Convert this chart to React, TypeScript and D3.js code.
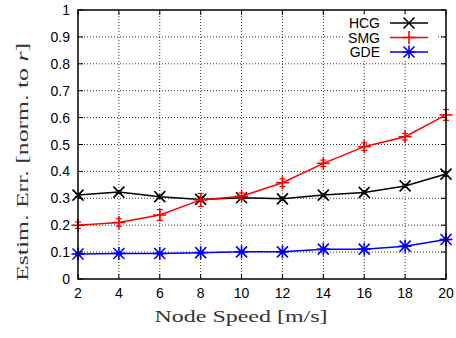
import { useEffect, useRef } from "react";
import * as d3 from "d3";

// node speeds (m/s)
const speeds = [2, 4, 6, 8, 10, 12, 14, 16, 18, 20];

// estimation error, normalised to r
const hcg = [0.312, 0.323, 0.306, 0.296, 0.302, 0.298, 0.312, 0.322, 0.346, 0.39];
const hcgErr = [0.006, 0.006, 0.006, 0.008, 0.006, 0.006, 0.006, 0.006, 0.006, 0.008];
const smg = [0.2, 0.21, 0.238, 0.294, 0.308, 0.358, 0.43, 0.492, 0.529, 0.61];
const smgErr = [0.012, 0.014, 0.02, 0.024, 0.012, 0.014, 0.012, 0.014, 0.012, 0.02];
const gde = [0.093, 0.095, 0.095, 0.098, 0.101, 0.101, 0.111, 0.111, 0.122, 0.147];
const gdeErr = [0.004, 0.004, 0.004, 0.004, 0.004, 0.004, 0.004, 0.004, 0.004, 0.005];

const xTicks = [2, 4, 6, 8, 10, 12, 14, 16, 18, 20];
const yTicks = [0, 0.1, 0.2, 0.3, 0.4, 0.5, 0.6, 0.7, 0.8, 0.9, 1];

const seriesList = [
  { name: "HCG", values: hcg, err: hcgErr, color: "#000000", marker: "x" },
  { name: "SMG", values: smg, err: smgErr, color: "#ff0000", marker: "plus" },
  { name: "GDE", values: gde, err: gdeErr, color: "#0000ff", marker: "star" },
];

function App() {
  const svgRef = useRef<SVGSVGElement>(null);

  useEffect(() => {
    document.body.style.margin = "0";
    const width = 456;
    const height = 338;
    const left = 78, right = 446, top = 10, bottom = 279;

    const svg = d3.select(svgRef.current);
    svg.selectAll("*").remove();
    svg.attr("width", width).attr("height", height);

    const x = d3.scaleLinear().domain([2, 20]).range([left, right]);
    const y = d3.scaleLinear().domain([0, 1]).range([bottom, top]);

    const sans = "'Liberation Sans', Arial, sans-serif";
    const serif = "'Liberation Serif', serif";

    // grid
    const grid = svg.append("g").attr("stroke", "#000").attr("stroke-width", 0.8)
      .attr("stroke-dasharray", "1,2");
    xTicks.slice(1, -1).forEach((t) => {
      grid.append("line").attr("x1", x(t)).attr("x2", x(t)).attr("y1", top).attr("y2", bottom);
    });
    yTicks.slice(1, -1).forEach((t) => {
      grid.append("line").attr("x1", left).attr("x2", right).attr("y1", y(t)).attr("y2", y(t));
    });

    // ticks (inward, mirrored)
    const tk = svg.append("g").attr("stroke", "#000").attr("stroke-width", 1);
    xTicks.forEach((t) => {
      tk.append("line").attr("x1", x(t)).attr("x2", x(t)).attr("y1", bottom).attr("y2", bottom - 5);
      tk.append("line").attr("x1", x(t)).attr("x2", x(t)).attr("y1", top).attr("y2", top + 5);
    });
    yTicks.forEach((t) => {
      tk.append("line").attr("x1", left).attr("x2", left + 5).attr("y1", y(t)).attr("y2", y(t));
      tk.append("line").attr("x1", right).attr("x2", right - 5).attr("y1", y(t)).attr("y2", y(t));
    });

    // tick labels
    svg.append("g").selectAll("text").data(xTicks).join("text")
      .attr("x", (d) => x(d)).attr("y", 298).attr("text-anchor", "middle")
      .attr("font-family", sans).attr("font-size", 14).text((d) => String(d));
    svg.append("g").selectAll("text").data(yTicks).join("text")
      .attr("x", 70).attr("y", (d) => y(d) + 5).attr("text-anchor", "end")
      .attr("font-family", sans).attr("font-size", 14).text((d) => String(d));

    // axis titles
    svg.append("text").attr("x", 241).attr("y", 322).attr("text-anchor", "middle")
      .attr("font-family", serif).attr("font-size", 16).attr("fill", "#333")
      .attr("textLength", 173).attr("lengthAdjust", "spacingAndGlyphs")
      .text("Node Speed [m/s]");
    const yt = svg.append("text").attr("transform", "translate(28,162) rotate(-90)")
      .attr("text-anchor", "middle").attr("font-family", serif).attr("font-size", 16)
      .attr("fill", "#333").attr("textLength", 238).attr("lengthAdjust", "spacingAndGlyphs");
    yt.append("tspan").text("Estim.  Err.  [norm.  to ");
    yt.append("tspan").attr("font-style", "italic").text("r");
    yt.append("tspan").text("]");

    const drawMarker = (g: any, type: string, cx: number, cy: number, color: string) => {
      const s = 5.5;
      const m = g.append("g").attr("stroke", color).attr("stroke-width", 1.6);
      if (type === "x" || type === "star") {
        m.append("line").attr("x1", cx - s).attr("x2", cx + s).attr("y1", cy - s).attr("y2", cy + s);
        m.append("line").attr("x1", cx - s).attr("x2", cx + s).attr("y1", cy + s).attr("y2", cy - s);
      }
      if (type === "plus" || type === "star") {
        const p = 6.5;
        m.append("line").attr("x1", cx - p).attr("x2", cx + p).attr("y1", cy).attr("y2", cy);
        m.append("line").attr("x1", cx).attr("x2", cx).attr("y1", cy - p).attr("y2", cy + p);
      }
    };

    const line = d3.line<number>().x((_, i) => x(speeds[i])).y((d) => y(d));

    seriesList.forEach((s) => {
      const g = svg.append("g");
      g.append("path").attr("d", line(s.values)).attr("fill", "none")
        .attr("stroke", s.color).attr("stroke-width", 1.5);
      s.values.forEach((v, i) => {
        const cx = x(speeds[i]);
        const lo = y(v - s.err[i]);
        const hi = y(v + s.err[i]);
        const eb = g.append("g").attr("stroke", s.color).attr("stroke-width", 1.2);
        eb.append("line").attr("x1", cx).attr("x2", cx).attr("y1", lo).attr("y2", hi);
        eb.append("line").attr("x1", cx - 3).attr("x2", cx + 3).attr("y1", lo).attr("y2", lo);
        eb.append("line").attr("x1", cx - 3).attr("x2", cx + 3).attr("y1", hi).attr("y2", hi);
        drawMarker(g, s.marker, cx, y(v), s.color);
      });
    });

    // border
    svg.append("rect").attr("x", left).attr("y", top).attr("width", right - left)
      .attr("height", bottom - top).attr("fill", "none").attr("stroke", "#000").attr("stroke-width", 1.5);

    // legend
    const lg = svg.append("g");
    lg.append("rect").attr("x", 343).attr("y", 14).attr("width", 94).attr("height", 47).attr("fill", "#fff");
    seriesList.forEach((s, i) => {
      const cy = 23 + i * 14.5;
      lg.append("text").attr("x", 380).attr("y", cy + 5).attr("text-anchor", "end")
        .attr("font-family", sans).attr("font-size", 14).text(s.name);
      lg.append("line").attr("x1", 390).attr("x2", 428).attr("y1", cy).attr("y2", cy)
        .attr("stroke", s.color).attr("stroke-width", 1.5);
      drawMarker(lg, s.marker, 409, cy, s.color);
    });
  }, []);

  return <svg ref={svgRef} style={{ display: "block" }}></svg>;
}

export default App;
